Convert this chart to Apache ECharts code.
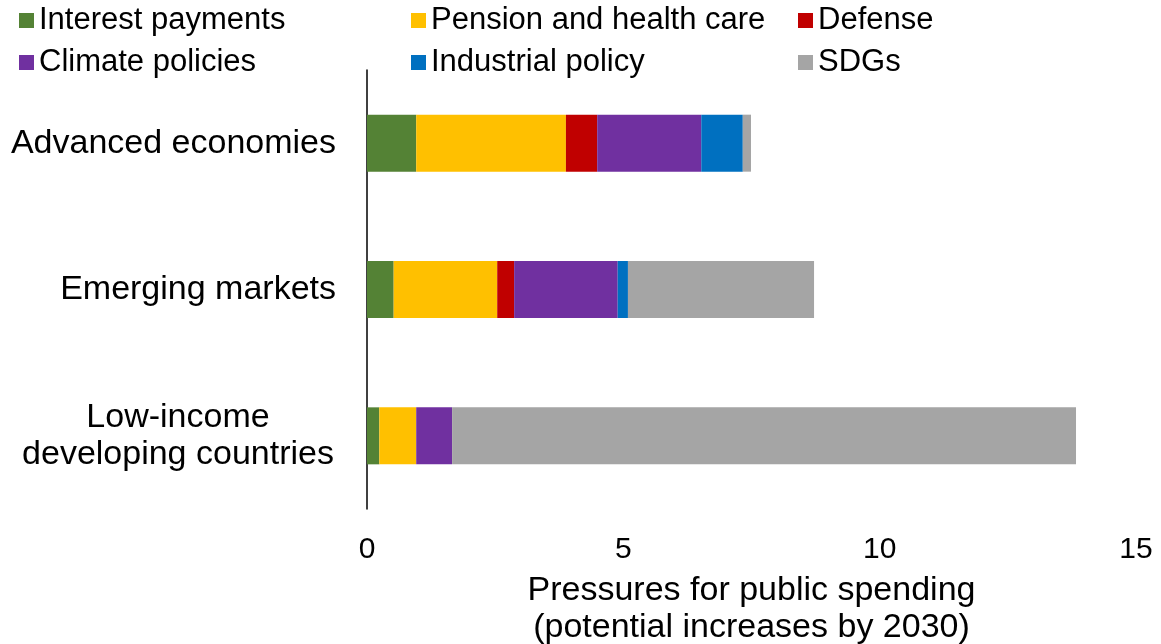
<!DOCTYPE html>
<html>
<head>
<meta charset="utf-8">
<script src="https://cdn.jsdelivr.net/npm/echarts@6/dist/echarts.min.js"></script>
<style>
  html, body { margin: 0; padding: 0; background: #fff; }
  #main { width: 1161px; height: 644px; }
</style>
</head>
<body>
<div id="main"></div>
<script>
// groups, top to bottom
var groups = ['Advanced economies', 'Emerging markets', 'Low-income\ndeveloping countries'];

// percent of GDP
var interestPayments = [0.96, 0.52, 0.24];
var pensionHealth    = [2.92, 2.02, 0.72];
var defense          = [0.61, 0.33, 0];
var climatePolicies  = [2.03, 2.02, 0.70];
var industrialPolicy = [0.81, 0.20, 0];
var sdgs             = [0.16, 3.63, 12.17];

var xTicks = [0, 5, 10, 15];

var font = 'Liberation Sans, Arial, sans-serif';

function mkSeries(name, data, color) {
    return {
        name: name,
        type: 'bar',
        stack: 'total',
        barWidth: 57,
        data: data,
        itemStyle: { color: color },
        emphasis: { disabled: true }
    };
}

function mkLegend(left, names) {
    return {
        orient: 'vertical',
        left: left,
        top: 0,
        icon: 'rect',
        itemWidth: 15,
        itemHeight: 15,
        itemGap: 11,
        data: names,
        textStyle: { fontFamily: font, fontSize: 31, color: '#000', lineHeight: 30 }
    };
}

var myChart = echarts.init(document.getElementById('main'));

var option = {
    animation: false,
    textStyle: { fontFamily: font },
    legend: [
        mkLegend(14, ['Interest payments', 'Climate policies']),
        mkLegend(406, ['Pension and health care', 'Industrial policy']),
        mkLegend(793, ['Defense', 'SDGs'])
    ],
    grid: { left: 367, right: 25, top: 70, bottom: 135, outerBoundsMode: 'none' },
    xAxis: {
        type: 'value',
        min: xTicks[0],
        max: xTicks[xTicks.length - 1],
        interval: 5,
        axisLine: { show: false },
        axisTick: { show: false },
        splitLine: { show: false },
        axisLabel: { fontSize: 30, color: '#000', margin: 26 },
        name: 'Pressures for public spending\n(potential increases by 2030)',
        nameLocation: 'middle',
        nameGap: 63,
        nameTextStyle: { fontSize: 34, color: '#000', lineHeight: 37 }
    },
    yAxis: {
        type: 'category',
        inverse: true,
        data: groups,
        axisLine: { show: true, lineStyle: { color: '#000', width: 1.5 } },
        axisTick: { show: false },
        axisLabel: {
            fontSize: 34,
            color: '#000',
            margin: 31,
            lineHeight: 37,
            formatter: function (v) {
                if (v.indexOf('\n') < 0) return v;
                // multi-line label: lines centred on each other
                return v.split('\n').map(function (s) { return '{c|' + s + '}'; }).join('\n');
            },
            rich: {
                c: { fontSize: 34, color: '#000', lineHeight: 37, width: 316, align: 'center' }
            }
        }
    },
    series: [
        mkSeries('Interest payments', interestPayments, '#548235'),
        mkSeries('Pension and health care', pensionHealth, '#FFC000'),
        mkSeries('Defense', defense, '#C00000'),
        mkSeries('Climate policies', climatePolicies, '#7030A0'),
        mkSeries('Industrial policy', industrialPolicy, '#0070C0'),
        mkSeries('SDGs', sdgs, '#A5A5A5')
    ]
};

myChart.setOption(option);
</script>
</body>
</html>
